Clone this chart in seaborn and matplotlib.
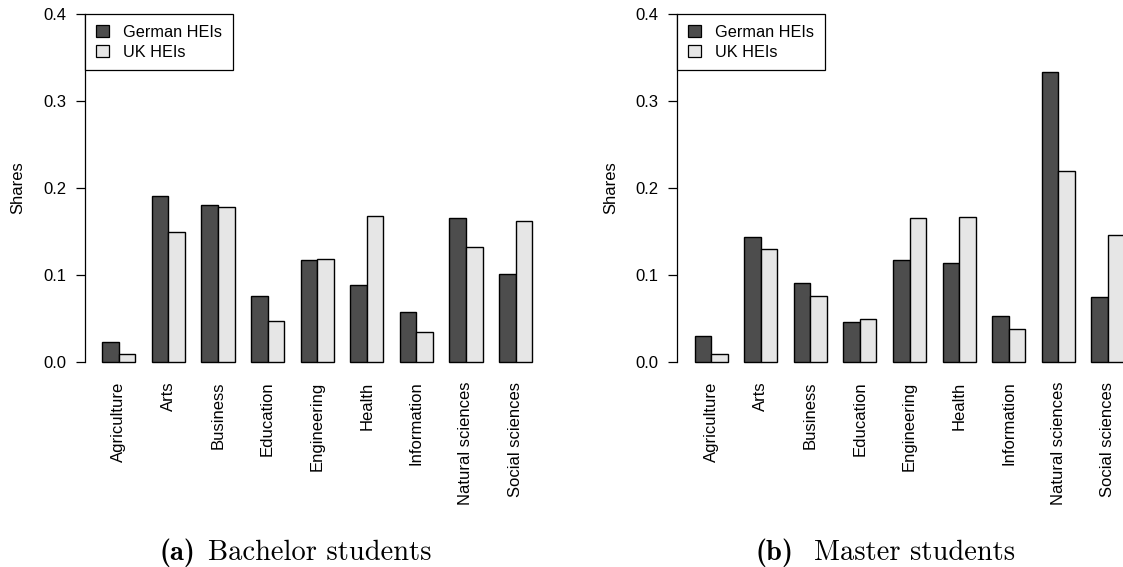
import matplotlib
matplotlib.use("Agg")
import matplotlib.pyplot as plt
from matplotlib.patches import Patch
import seaborn as sns
import pandas as pd

plt.rcParams['font.family'] = ['Liberation Sans', 'DejaVu Sans']

fields = ["Agriculture", "Arts", "Business", "Education", "Engineering",
          "Health", "Information", "Natural sciences", "Social sciences"]
groups = ["German HEIs", "UK HEIs"]

bachelor_german = [0.0226, 0.191, 0.180, 0.076, 0.117, 0.089, 0.0575, 0.166, 0.101]
bachelor_uk = [0.0092, 0.149, 0.1785, 0.0475, 0.118, 0.168, 0.0342, 0.1326, 0.1625]
master_german = [0.030, 0.144, 0.0912, 0.0456, 0.117, 0.1134, 0.0525, 0.333, 0.0743]
master_uk = [0.0096, 0.1295, 0.0762, 0.0498, 0.1651, 0.1663, 0.0383, 0.2195, 0.1464]

caption_tags = ["(a)", "(b)"]
caption_texts = ["Bachelor students", "Master students"]
yticks = [0.0, 0.1, 0.2, 0.3, 0.4]
colors = ["#4d4d4d", "#e6e6e6"]


def make_df(g, u):
    return pd.DataFrame({
        "field": fields * 2,
        "share": list(g) + list(u),
        "group": [groups[0]] * len(fields) + [groups[1]] * len(fields),
    })


W, H = 1123, 567
fig = plt.figure(figsize=(W / 100, H / 100), dpi=100)

ax_w = 464.2
ax_h = 376.0
lefts = [85.1, 677.4]
tag_right = [195, 793]
text_left = [208, 814]
datasets = [(bachelor_german, bachelor_uk), (master_german, master_uk)]

FS = 12
LFS = 11.7
for i, (g, u) in enumerate(datasets):
    ax = fig.add_axes([lefts[i] / W, 1 - ax_h / H, ax_w / W, ax_h / H])
    df = make_df(g, u)
    sns.barplot(data=df, x="field", y="share", hue="group", palette=colors,
                width=2 / 3, edgecolor="black", linewidth=1.0, errorbar=None,
                legend=False, ax=ax, saturation=1)
    ax.set_xlim(-0.68, 8.68)
    ax.set_ylim(-0.016, 0.416)
    for s in ["top", "right", "bottom"]:
        ax.spines[s].set_visible(False)
    ax.spines["left"].set_bounds(0, 0.4)
    ax.spines["left"].set_linewidth(0.9)
    ax.set_yticks(yticks)
    ax.set_yticklabels([f"{v:.1f}" for v in yticks])
    ax.tick_params(axis="y", length=6.5, width=0.9, pad=7, labelsize=FS)
    ax.tick_params(axis="x", length=0, pad=4, labelsize=FS, labelrotation=90)
    ax.set_xlabel("")
    ax.set_ylabel("Shares", fontsize=FS)
    ax.yaxis.set_label_coords(-0.128, 0.5)
    handles = [Patch(facecolor=colors[k], edgecolor="black", linewidth=0.9)
               for k in range(2)]
    leg = ax.legend(handles, groups, loc="upper left",
                    bbox_to_anchor=(0, 1 - 14 / ax_h), borderaxespad=0,
                    fancybox=False, framealpha=1, edgecolor="black",
                    fontsize=LFS, handlelength=0.82, handleheight=0.82,
                    handletextpad=0.86, labelspacing=0.3, borderpad=0.66)
    leg.get_frame().set_linewidth(0.9)
    fig.text(tag_right[i] / W, 1 - 560 / H, caption_tags[i], ha="right",
             va="baseline", fontsize=20.5, family="cmb10")
    fig.text(text_left[i] / W, 1 - 560 / H, caption_texts[i], ha="left",
             va="baseline", fontsize=20.5, family="cmr10")

fig.savefig("out.png", dpi=100)
